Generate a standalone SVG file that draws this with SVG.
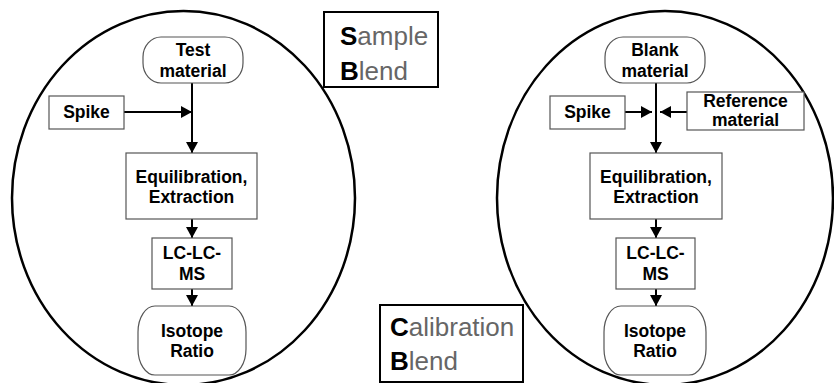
<svg xmlns="http://www.w3.org/2000/svg" width="834" height="383" viewBox="0 0 834 383">
<defs>
<marker id="ah" viewBox="0 0 11 12" refX="11" refY="6" markerWidth="11" markerHeight="12" markerUnits="userSpaceOnUse" orient="auto">
<path d="M0,0 L11,6 L0,12 Z" fill="#000"/>
</marker>
<style>
.bg{fill:#fff}
.ell{fill:none;stroke:#000;stroke-width:2.5}
.nd{fill:#fff;stroke:#555;stroke-width:1.2}
.lb{fill:#fff;stroke:#000;stroke-width:2}
.t{font-family:"Liberation Sans",Arial,sans-serif;font-weight:bold;font-size:17.5px;fill:#000;text-anchor:middle}
.big{font-family:"Liberation Sans",Arial,sans-serif;font-size:26px;fill:#666}
.big tspan.b{font-weight:bold;fill:#000}
.c{fill:none;stroke:#000;stroke-width:2;marker-end:url(#ah)}
</style>
</defs>
<rect class="bg" x="0" y="0" width="834" height="383"/>
<ellipse class="ell" cx="183.5" cy="198" rx="171.5" ry="187"/>
<ellipse class="ell" cx="665" cy="198" rx="168" ry="187"/>
<g id="connectors">
<path class="c" d="M192,83 V153"/>
<path class="c" d="M124,112 H192"/>
<path class="c" d="M192,219 V238"/>
<path class="c" d="M192,289 V306"/>
<path class="c" d="M656,83 V153"/>
<path class="c" d="M625,112 H652"/>
<path class="c" d="M687,112 H660"/>
<path class="c" d="M656,219 V238"/>
<path class="c" d="M656,289 V306"/>
</g>
<g id="sample-blend">
<rect class="lb" x="324" y="12" width="114" height="75"/>
<text class="big" x="340" y="45"><tspan class="b">S</tspan>ample</text>
<text class="big" x="340" y="80"><tspan class="b">B</tspan>lend</text>
</g>
<g id="calibration-blend">
<rect class="lb" x="380" y="305" width="143" height="77"/>
<text class="big" x="390" y="336"><tspan class="b">C</tspan>alibration</text>
<text class="big" x="390" y="370"><tspan class="b">B</tspan>lend</text>
</g>
<g id="test-material">
<rect class="nd" x="143" y="37" width="100" height="46" rx="18" ry="20"/>
<text class="t" x="193" y="56">Test</text>
<text class="t" x="193" y="77">material</text>
</g>
<g id="spike-left">
<rect class="nd" x="49" y="96" width="75" height="33"/>
<text class="t" x="86.5" y="118">Spike</text>
</g>
<g id="equil-left">
<rect class="nd" x="126" y="153" width="131" height="66"/>
<text class="t" x="191.5" y="183">Equilibration,</text>
<text class="t" x="191.5" y="203">Extraction</text>
</g>
<g id="lcms-left">
<rect class="nd" x="152" y="238" width="80" height="51"/>
<text class="t" x="192" y="259">LC-LC-</text>
<text class="t" x="192" y="280">MS</text>
</g>
<g id="isotope-left">
<rect class="nd" x="138" y="306" width="108" height="69" rx="17" ry="26"/>
<text class="t" x="192" y="337">Isotope</text>
<text class="t" x="192" y="357">Ratio</text>
</g>
<g id="blank-material">
<rect class="nd" x="605" y="37" width="100" height="46" rx="18" ry="20"/>
<text class="t" x="655" y="56">Blank</text>
<text class="t" x="655" y="77">material</text>
</g>
<g id="spike-right">
<rect class="nd" x="550" y="96" width="75" height="33"/>
<text class="t" x="587.5" y="118">Spike</text>
</g>
<g id="reference-material">
<rect class="nd" x="687" y="92" width="117" height="38"/>
<text class="t" x="745.5" y="107">Reference</text>
<text class="t" x="745.5" y="126">material</text>
</g>
<g id="equil-right">
<rect class="nd" x="590" y="153" width="132" height="66"/>
<text class="t" x="656" y="183">Equilibration,</text>
<text class="t" x="656" y="203">Extraction</text>
</g>
<g id="lcms-right">
<rect class="nd" x="616" y="238" width="79" height="51"/>
<text class="t" x="655.5" y="259">LC-LC-</text>
<text class="t" x="655.5" y="280">MS</text>
</g>
<g id="isotope-right">
<rect class="nd" x="604" y="306" width="102" height="69" rx="17" ry="26"/>
<text class="t" x="655" y="337">Isotope</text>
<text class="t" x="655" y="357">Ratio</text>
</g>
</svg>
